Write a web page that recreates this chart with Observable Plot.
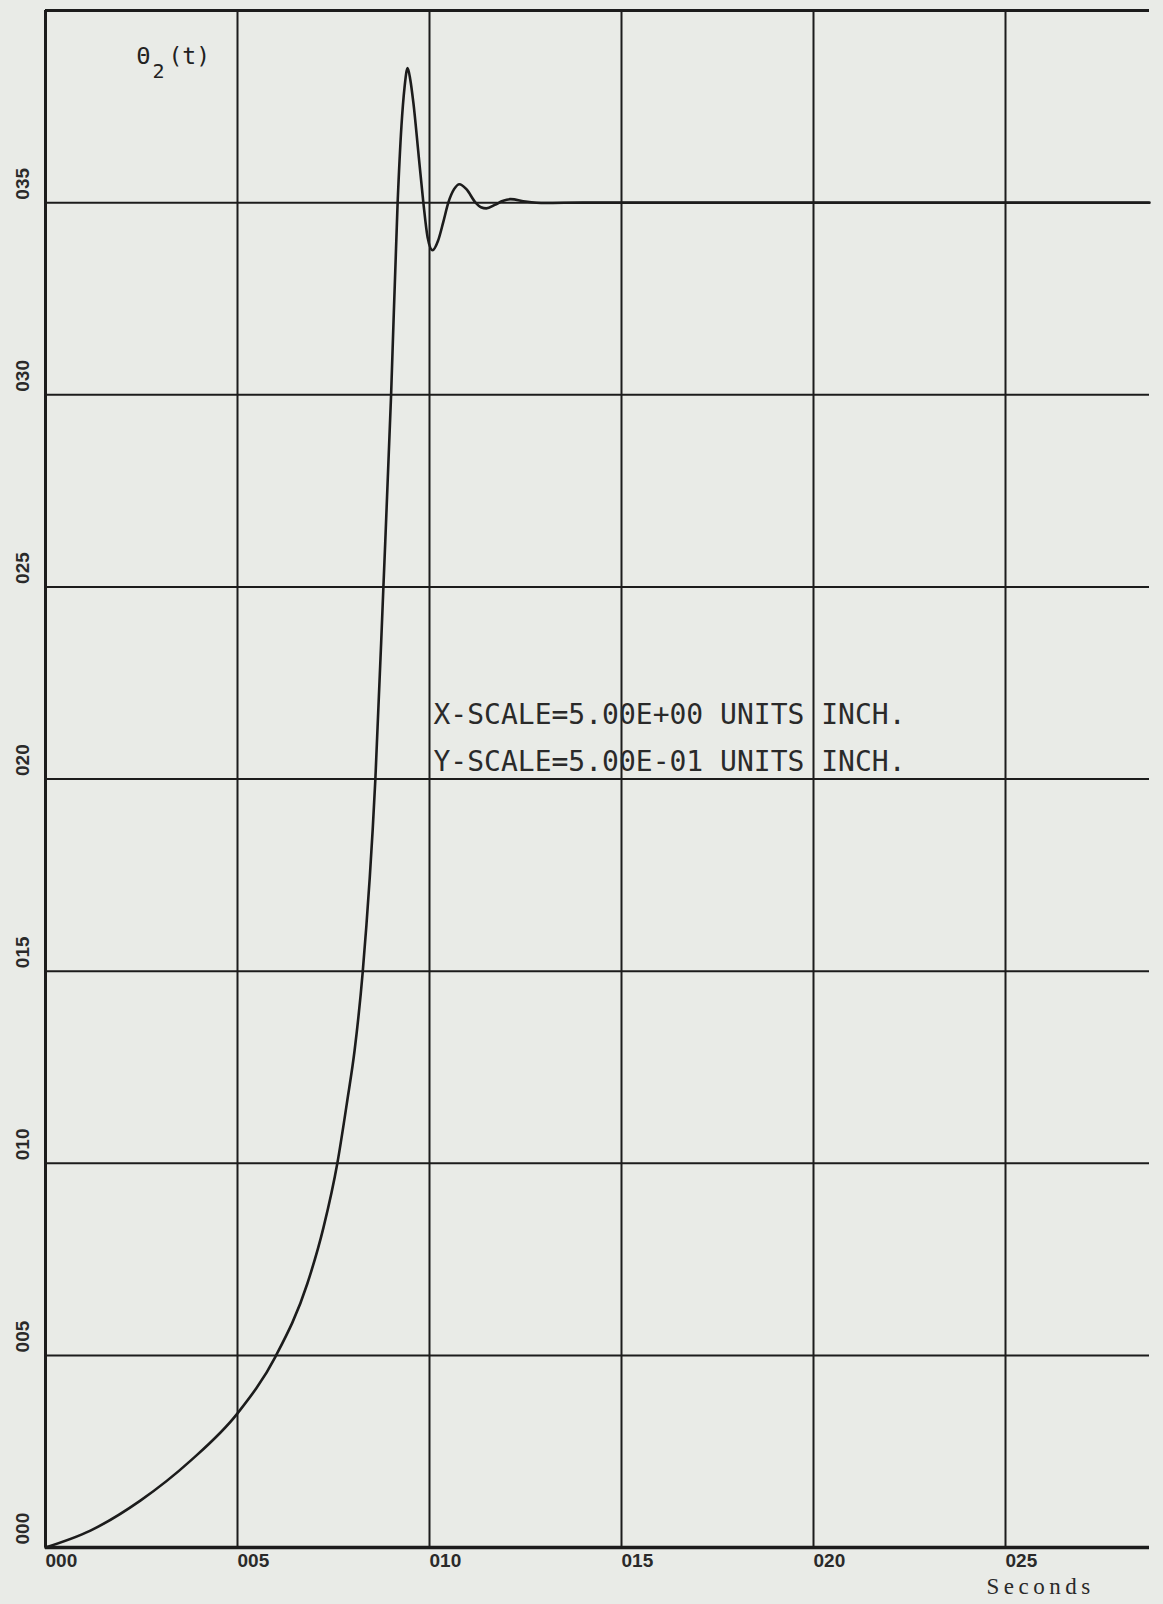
<!DOCTYPE html>
<html>
<head>
<meta charset="utf-8">
<script src="https://cdn.jsdelivr.net/npm/d3@7"></script>
<script src="https://cdn.jsdelivr.net/npm/@observablehq/plot@0.6"></script>
<style>
  html, body { margin: 0; padding: 0; background: #e9ebe7; }
  #chart svg { display: block; }
</style>
</head>
<body>
<div id="chart"></div>
<script>
// Time (x, plot units) and theta_2(t) (y)
const tValues = [0, 1.17, 2.47, 3.78, 5.0, 5.99, 6.82, 7.24, 7.60, 7.86, 8.05, 8.26, 8.59, 8.80, 9.00, 9.17, 9.27, 9.35, 9.43, 9.50, 9.58, 9.72, 9.84, 9.95, 10.08, 10.22, 10.36, 10.49, 10.64, 10.78, 10.96, 11.2, 11.34, 11.48, 11.7, 11.9, 12.11, 12.5, 13.0, 14.0, 20.0, 28.75];
const thetaValues = [0, 0.044, 0.122, 0.226, 0.349, 0.497, 0.687, 0.833, 1.0, 1.164, 1.294, 1.497, 1.999, 2.501, 3.0, 3.5, 3.7, 3.80, 3.85, 3.82, 3.76, 3.62, 3.5, 3.41, 3.376, 3.40, 3.45, 3.5, 3.535, 3.548, 3.535, 3.5, 3.488, 3.485, 3.494, 3.504, 3.509, 3.503, 3.499, 3.5, 3.5, 3.5];

const xTicks = [0, 5, 10, 15, 20, 25];
const xTickLabels = ["000", "005", "010", "015", "020", "025"];
const yTicks = [0, 0.5, 1.0, 1.5, 2.0, 2.5, 3.0, 3.5];
const yTickLabels = ["000", "005", "010", "015", "020", "025", "030", "035"];

const xDomain = [0, 28.75];
const yDomain = [0, 4.0];

const seriesSymbol = "Θ";
const seriesSub = "2";
const seriesArg = "(t)";
const scaleLines = ["X-SCALE=5.00E+00 UNITS INCH.", "Y-SCALE=5.00E-01 UNITS INCH."];
const xTitle = "Seconds";

const data = tValues.map((t, i) => ({t, v: thetaValues[i]}));
const xLab = xTicks.map((x, i) => ({x, label: xTickLabels[i]}));
const yLab = yTicks.map((y, i) => ({y, label: yTickLabels[i]}));

const ink = "#1c1c1c";
const mono = "DejaVu Sans Mono, monospace";
const narrow = "Liberation Sans Narrow, Liberation Sans, Arial, sans-serif";

const chart = Plot.plot({
  width: 1163,
  height: 1604,
  marginLeft: 45,
  marginRight: 14,
  marginTop: 10,
  marginBottom: 57,
  x: {domain: xDomain, axis: null},
  y: {domain: yDomain, axis: null},
  style: {background: "#e9ebe7", overflow: "visible"},
  marks: [
    Plot.ruleX(xTicks, {stroke: ink, strokeWidth: 2}),
    Plot.ruleY(yTicks, {stroke: ink, strokeWidth: 2}),
    Plot.ruleX([xDomain[0]], {stroke: ink, strokeWidth: 3}),
    Plot.ruleY([yDomain[1]], {stroke: ink, strokeWidth: 3}),
    Plot.ruleY([yDomain[0]], {stroke: ink, strokeWidth: 3.5}),
    Plot.line(data, {x: "t", y: "v", curve: "monotone-x", stroke: ink, strokeWidth: 2.6}),
    Plot.text(xLab, {x: "x", y: yDomain[0], text: "label", textAnchor: "start", lineAnchor: "top", dy: 6,
      fontSize: 19, fontWeight: "bold", fontFamily: narrow, fill: "#2a2a2a"}),
    Plot.text(yLab, {x: xDomain[0], y: "y", text: "label", rotate: -90, textAnchor: "start", lineAnchor: "middle", dx: -23, dy: -3,
      fontSize: 19, fontWeight: "bold", fontFamily: narrow, fill: "#2a2a2a"}),
    Plot.text([seriesSymbol], {frameAnchor: "top-left", textAnchor: "start", lineAnchor: "bottom", dx: 91, dy: 53,
      fontSize: 23, fontFamily: mono, fill: "#222"}),
    Plot.text([seriesSub], {frameAnchor: "top-left", textAnchor: "start", lineAnchor: "bottom", dx: 107, dy: 67,
      fontSize: 20, fontFamily: mono, fill: "#222"}),
    Plot.text([seriesArg], {frameAnchor: "top-left", textAnchor: "start", lineAnchor: "bottom", dx: 123, dy: 53,
      fontSize: 23, fontFamily: mono, fill: "#222"}),
    Plot.text([scaleLines[0]], {frameAnchor: "top-left", textAnchor: "start", lineAnchor: "bottom", dx: 388, dy: 713,
      fontSize: 28, fontFamily: mono, fill: "#2a2a2a"}),
    Plot.text([scaleLines[1]], {frameAnchor: "top-left", textAnchor: "start", lineAnchor: "bottom", dx: 388, dy: 760,
      fontSize: 28, fontFamily: mono, fill: "#2a2a2a"}),
    Plot.text([xTitle], {frameAnchor: "bottom-right", textAnchor: "start", lineAnchor: "bottom", dx: -163, dy: 46,
      fontSize: 23, fontFamily: "Liberation Serif, serif", fill: "#2a2a2a"})
  ]
});
d3.select(chart).selectAll("text")
  .filter(function() { return this.textContent === xTitle; })
  .style("letter-spacing", "4.5px");
document.getElementById("chart").appendChild(chart);
</script>
</body>
</html>
